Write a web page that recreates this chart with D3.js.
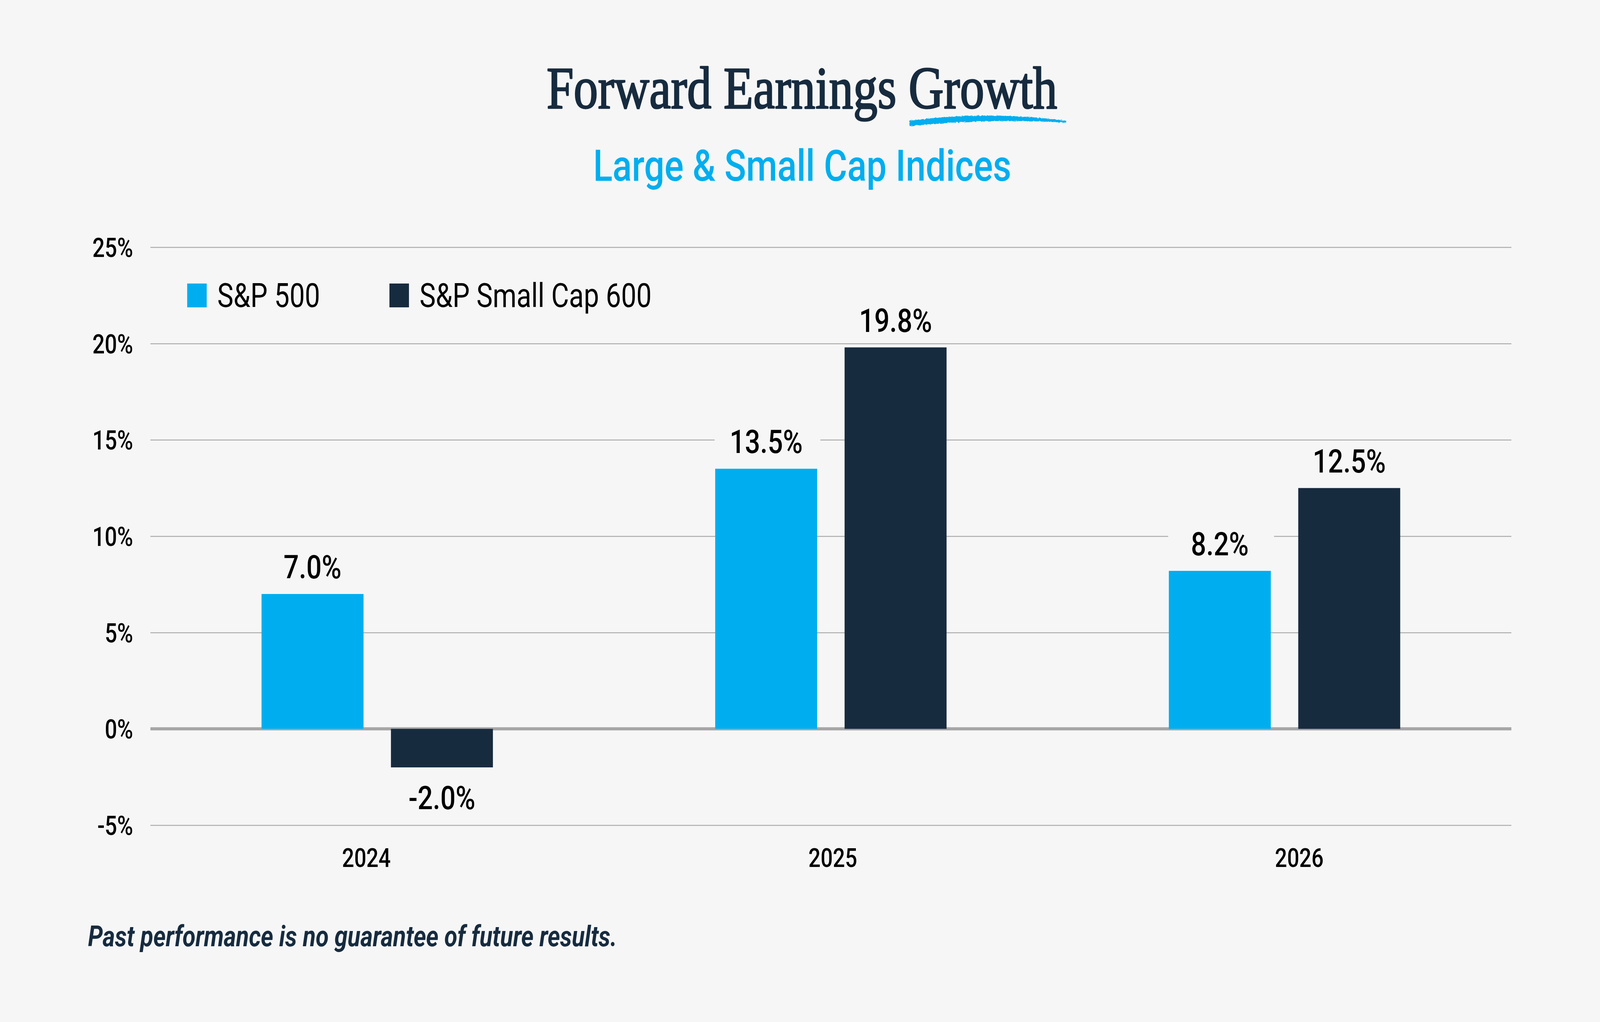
<!DOCTYPE html>
<html>
<head>
<meta charset="utf-8">
<script src="https://cdn.jsdelivr.net/npm/d3@7/dist/d3.min.js"></script>
<style>
  html, body { margin: 0; padding: 0; background: #f6f6f6; overflow: hidden; }
  svg { display: block; width: 100vw; height: 100vh; }
</style>
</head>
<body>
<svg id="chart" viewBox="0 0 5000 2617" preserveAspectRatio="none"></svg>
<script>
// ---- Data ----
const years = ["2024", "2025", "2026"];
const seriesNames = ["S&P 500", "S&P Small Cap 600"];
const sp500 = [7.0, 13.5, 8.2];
const smallCap600 = [-2.0, 19.8, 12.5];
const yTicks = [-5, 0, 5, 10, 15, 20, 25];
const titleText = "Forward Earnings Growth";
const subtitleText = "Large & Small Cap Indices";
const footnoteText = "Past performance is no guarantee of future results.";

// ---- Styles ----
const BG = "#f6f6f6";
const BLUE = "#00aeef";
const NAVY = "#172b3f";
const colors = [BLUE, NAVY];
const SANS = "Roboto, 'Liberation Sans', Arial, sans-serif";
const SERIF = "'Liberation Serif', 'Times New Roman', serif";

const svg = d3.select("#chart");
svg.append("rect").attr("width", 5000).attr("height", 2617).attr("fill", BG);

// Title
svg.append("text")
  .attr("x", 2506).attr("y", 277)
  .attr("text-anchor", "middle")
  .attr("font-family", SERIF)
  .attr("font-size", 152)
  .attr("fill", NAVY)
  .attr("stroke", NAVY).attr("stroke-width", 3.5)
  .attr("stroke-linejoin", "round")
  .text(titleText);

// Brush swoosh under "Growth"
const defs = svg.append("defs");
const filt = defs.append("filter").attr("id", "rough")
  .attr("x", "-5%").attr("y", "-50%").attr("width", "110%").attr("height", "200%");
filt.append("feTurbulence").attr("type", "fractalNoise").attr("baseFrequency", "0.15 0.5").attr("numOctaves", 2).attr("result", "n");
filt.append("feDisplacementMap").attr("in", "SourceGraphic").attr("in2", "n").attr("scale", 6);
svg.append("path")
  .attr("d", "M2842,309 Q3080,283 3332,309 L3332,314 Q3080,302 2842,323 Z")
  .attr("fill", BLUE)
  .attr("filter", "url(#rough)");

// Subtitle
svg.append("text")
  .attr("x", 2507).attr("y", 463)
  .attr("text-anchor", "middle")
  .attr("font-family", SANS)
  .attr("font-weight", 500)
  .attr("font-size", 112)
  .attr("fill", BLUE)
  .text(subtitleText);

// ---- Scales ----
const plotLeft = 470, plotRight = 4723;
const y = d3.scaleLinear().domain([-5, 25]).range([2113, 633]);
const x0 = d3.scaleBand().domain(years).range([plotLeft, plotRight])
  .paddingInner(0.49).paddingOuter(0.245);
const x1 = d3.scaleBand().domain(seriesNames).range([0, x0.bandwidth()])
  .paddingInner(0.212);
const xLabel = d3.scaleBand().domain(years).range([416, 4789]);

// Gridlines
const grid = svg.append("g").attr("transform", `translate(${plotLeft},0)`)
  .call(d3.axisLeft(y).tickValues(yTicks.filter(d => d !== 0))
    .tickSize(-(plotRight - plotLeft)).tickFormat(""));
grid.select(".domain").remove();
grid.selectAll("line").attr("stroke", "#adadad").attr("stroke-width", 2.5);

// Zero line
svg.append("line")
  .attr("x1", plotLeft).attr("x2", plotRight)
  .attr("y1", y(0)).attr("y2", y(0))
  .attr("stroke", "#a6a6a6").attr("stroke-width", 8);

// Y axis labels
const yAxis = svg.append("g").attr("transform", `translate(${plotLeft},0)`)
  .call(d3.axisLeft(y).tickValues(yTicks).tickSize(0).tickPadding(54)
    .tickFormat(d => d + "%"));
yAxis.select(".domain").remove();
yAxis.selectAll("text")
  .attr("font-family", SANS).attr("font-weight", 500)
  .attr("font-size", 68).attr("fill", "#000")
  .attr("dy", "0.36em");

// X axis labels
const xAxis = svg.append("g").attr("transform", `translate(0,${y(-5)})`)
  .call(d3.axisBottom(xLabel).tickSize(0));
xAxis.select(".domain").remove();
xAxis.selectAll("text")
  .attr("font-family", SANS).attr("font-weight", 500)
  .attr("font-size", 67).attr("fill", "#000")
  .attr("y", 2220 - y(-5)).attr("dy", null);

// Bars
const rows = years.map((yr, i) => ({ year: yr, values: [sp500[i], smallCap600[i]] }));
const groups = svg.append("g").selectAll("g").data(rows).join("g")
  .attr("transform", d => `translate(${x0(d.year)},0)`);

groups.selectAll("rect.bar")
  .data(d => d.values.map((v, j) => ({ name: seriesNames[j], value: v, j })))
  .join("rect").attr("class", "bar")
  .attr("x", d => x1(d.name))
  .attr("width", x1.bandwidth())
  .attr("y", d => y(Math.max(0, d.value)))
  .attr("height", d => Math.abs(y(d.value) - y(0)))
  .attr("fill", d => colors[d.j]);

// Data labels with background
const fmt = d => d3.format(".1f")(d).replace("\u2212", "-") + "%";
const labelG = groups.selectAll("g.lbl")
  .data(d => d.values.map((v, j) => ({ name: seriesNames[j], value: v, j })))
  .join("g").attr("class", "lbl");
labelG.each(function(d) {
  const g = d3.select(this);
  const cx = x1(d.name) + x1.bandwidth() / 2;
  const baseline = d.value >= 0 ? y(d.value) - 40 : y(d.value) + 107;
  g.append("rect")
    .attr("x", x1(d.name) - 2).attr("width", x1.bandwidth() + 12)
    .attr("y", baseline - 74).attr("height", 88)
    .attr("fill", BG);
  g.append("text")
    .attr("x", cx).attr("y", baseline)
    .attr("text-anchor", "middle")
    .attr("font-family", SANS).attr("font-weight", 500)
    .attr("font-size", 84).attr("fill", "#000")
    .text(fmt(d.value));
});

// Legend
const legendX = [585, 1217];
const legend = svg.append("g").selectAll("g").data(seriesNames).join("g")
  .attr("transform", (d, i) => `translate(${legendX[i]},726)`);
legend.append("rect").attr("width", 61).attr("height", 61)
  .attr("fill", (d, i) => colors[i]);
legend.append("text").attr("x", 94).attr("y", 60)
  .attr("font-family", SANS).attr("font-weight", 400)
  .attr("font-size", 85).attr("fill", "#000")
  .text(d => d);

// Footnote
svg.append("text")
  .attr("x", 275).attr("y", 2423)
  .attr("font-family", SANS).attr("font-weight", 700)
  .attr("font-style", "italic")
  .attr("font-size", 74).attr("fill", NAVY)
  .text(footnoteText);
</script>
</body>
</html>
